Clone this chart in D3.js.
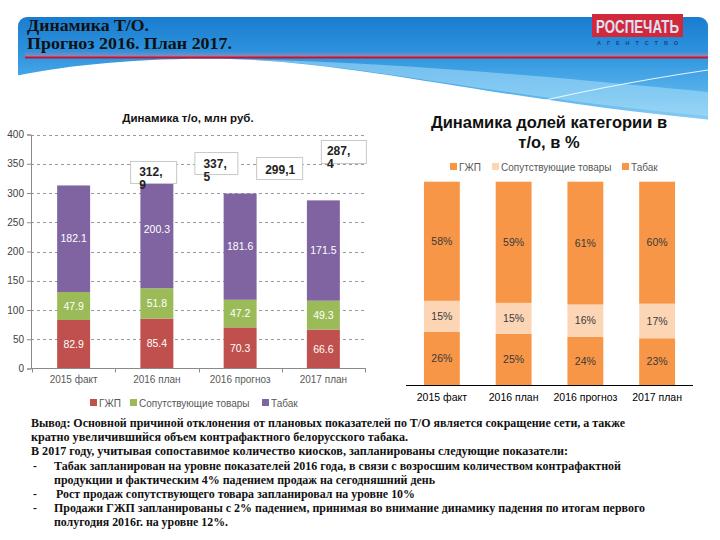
<!DOCTYPE html>
<html><head><meta charset="utf-8">
<script src="https://cdn.jsdelivr.net/npm/d3@7"></script>
<style>body{margin:0;background:#fff}svg{display:block}</style>
</head><body>
<svg id="c" width="720" height="540"></svg>
<script>
// ---------- DATA ----------
const categories = ["2015 факт", "2016 план", "2016 прогноз", "2017 план"];
const seriesNames = ["ГЖП", "Сопутствующие товары", "Табак"];
const gzhpValues = [82.9, 85.4, 70.3, 66.6];
const soputValues = [47.9, 51.8, 47.2, 49.3];
const tabakValues = [182.1, 200.3, 181.6, 171.5];
const gzhpShare = [26, 25, 24, 23];
const soputShare = [15, 15, 16, 17];
const tabakShare = [58, 59, 61, 60];
const yTicks = [0, 50, 100, 150, 200, 250, 300, 350, 400];
const titleLines = ["Динамика Т/О.", "Прогноз 2016. План 2017."];
const leftTitle = "Динамика т/о, млн руб.";
const rightTitleLines = ["Динамика долей категории в", "т/о, в %"];
const noteLines = [
  "Вывод: Основной причиной отклонения от плановых показателей по Т/О является сокращение сети, а также",
  "кратно увеличившийся объем контрафактного белорусского табака.",
  "В 2017 году, учитывая сопоставимое количество киосков, запланированы следующие показатели:",
  "Табак запланирован на уровне показателей 2016 года, в связи с возросшим количеством контрафактной",
  "продукции и фактическим 4% падением продаж на сегодняшний день",
  "Рост продаж сопутствующего товара запланировал на уровне 10%",
  "Продажи ГЖП запланированы с 2% падением, принимая во внимание динамику падения по итогам первого",
  "полугодия 2016г. на уровне 12%."
];
const noteBullets = [false, false, false, true, false, true, true, false];

// ---------- LAYOUT ----------
const svg = d3.select("#c");
const defs = svg.append("defs");
const hg = defs.append("linearGradient").attr("id", "hdr").attr("x1", 0).attr("y1", 0).attr("x2", 0).attr("y2", 1);
[[0, "#1a7ccf"], [0.3, "#2d93de"], [0.65, "#58b3eb"], [1, "#a6dbf7"]].forEach(s =>
  hg.append("stop").attr("offset", s[0]).attr("stop-color", s[1]));
const pg = defs.append("linearGradient").attr("id", "pink").attr("x1", 0).attr("y1", 0).attr("x2", 0).attr("y2", 1);
pg.append("stop").attr("offset", 0).attr("stop-color", "#e87a9a").attr("stop-opacity", 0);
pg.append("stop").attr("offset", 1).attr("stop-color", "#e87a9a").attr("stop-opacity", 0.55);

// header band
svg.append("rect").attr("x", 18).attr("y", 17).attr("width", 690).attr("height", 118).attr("rx", 9).attr("fill", "url(#hdr)");
svg.append("path").attr("d", "M230,59 C360,62 500,98 708,116 L708,92 C560,78 400,62 230,59 Z").attr("fill", "#a9def9").attr("opacity", 0.55);
svg.append("path").attr("d", "M10,77 C60,66 140,57 230,59 C360,62 500,100 712,120 L712,150 L10,150 Z").attr("fill", "#fff");
svg.append("path").attr("d", "M215,60 Q450,84 665,126").attr("fill", "none").attr("stroke", "#fff").attr("stroke-width", 1.2).attr("opacity", 0.85);
svg.append("path").attr("d", "M445,126 Q560,92 708,70").attr("fill", "none").attr("stroke", "#fff").attr("stroke-width", 1.2).attr("opacity", 0.85);
svg.append("rect").attr("x", 25).attr("y", 51).attr("width", 683).attr("height", 6).attr("fill", "url(#pink)");
svg.append("line").attr("x1", 25).attr("x2", 708).attr("y1", 57.5).attr("y2", 57.5).attr("stroke", "#c8142a").attr("stroke-width", 2);

// header title
const titleBase = [31, 49], titleLen = [122, 205];
titleLines.forEach((t, i) => svg.append("text").attr("x", 27).attr("y", titleBase[i])
  .attr("font-family", "Liberation Serif, serif").attr("font-weight", "bold").attr("font-size", 16.5)
  .attr("fill", "#111").attr("textLength", titleLen[i]).attr("lengthAdjust", "spacingAndGlyphs").text(t));

// logo
svg.append("rect").attr("x", 592).attr("y", 14).attr("width", 91).attr("height", 23).attr("fill", "#d3283a");
svg.append("text").attr("x", 596).attr("y", 33).attr("font-family", "Liberation Sans Narrow, Liberation Sans, sans-serif")
  .attr("font-weight", "bold").attr("font-size", 19).attr("fill", "#d9e2f4")
  .attr("textLength", 83).attr("lengthAdjust", "spacingAndGlyphs").text("РОСПЕЧАТЬ");
svg.append("text").attr("x", 597).attr("y", 44.5).attr("font-family", "Liberation Sans, sans-serif")
  .attr("font-weight", "bold").attr("font-size", 5.5).attr("fill", "#1f3c8c")
  .attr("textLength", 81).attr("lengthAdjust", "spacing").text("АГЕНТСТВО");

// ---------- LEFT CHART ----------
const leftColors = ["#C0504D", "#9BBB59", "#8064A2"];
const rowsL = categories.map((c, i) => ({cat: c, [seriesNames[0]]: gzhpValues[i], [seriesNames[1]]: soputValues[i], [seriesNames[2]]: tabakValues[i]}));
const stackL = d3.stack().keys(seriesNames)(rowsL);
const xL = d3.scaleBand().domain(categories).range([32, 365]).paddingInner(0.604).paddingOuter(0.302);
const yL = d3.scaleLinear().domain([0, 400]).range([368.5, 134.5]);

svg.append("text").attr("x", 188).attr("y", 122).attr("text-anchor", "middle")
  .attr("font-family", "Liberation Sans, Arial, sans-serif").attr("font-weight", "bold").attr("font-size", 11.5)
  .attr("fill", "#111").text(leftTitle);

const gL = svg.append("g");
gL.selectAll("line.grid").data(yTicks.filter(t => t > 0)).join("line").attr("class", "grid")
  .attr("x1", 31).attr("x2", 366).attr("y1", d => Math.round(yL(d)) + 0.5).attr("y2", d => Math.round(yL(d)) + 0.5)
  .attr("stroke", "#9a9a9a").attr("stroke-dasharray", "3,3").attr("stroke-width", 1);

const yAxisL = gL.append("g").attr("transform", "translate(31,0)")
  .call(d3.axisLeft(yL).tickValues(yTicks).tickSize(4).tickPadding(3));
yAxisL.select(".domain").attr("stroke", "#8a8a8a");
yAxisL.selectAll(".tick line").attr("stroke", "#8a8a8a");
yAxisL.selectAll(".tick text").attr("font-family", "Liberation Sans, Arial, sans-serif").attr("font-size", 10).attr("fill", "#404040");

stackL.forEach((s, si) => {
  gL.selectAll(null).data(s).join("rect")
    .attr("x", d => xL(d.data.cat)).attr("width", xL.bandwidth())
    .attr("y", d => yL(d[1])).attr("height", d => yL(d[0]) - yL(d[1]))
    .attr("fill", leftColors[si]);
  gL.selectAll(null).data(s).join("text")
    .attr("x", d => xL(d.data.cat) + xL.bandwidth() / 2).attr("y", d => (yL(d[0]) + yL(d[1])) / 2)
    .attr("dy", "0.36em").attr("text-anchor", "middle")
    .attr("font-family", "Liberation Sans, Arial, sans-serif").attr("font-size", 10.5).attr("fill", "#fff")
    .text(d => d3.format(".1f")(d[1] - d[0]));
});

// x axis
gL.append("line").attr("x1", 31).attr("x2", 366).attr("y1", 368.5).attr("y2", 368.5).attr("stroke", "#8a8a8a");
d3.range(categories.length + 1).forEach(i => {
  const x = Math.round(32 + i * xL.step()) + 0.5;
  gL.append("line").attr("x1", x).attr("x2", x).attr("y1", 368.5).attr("y2", 372.5).attr("stroke", "#8a8a8a");
});
gL.selectAll("text.cat").data(categories).join("text").attr("class", "cat")
  .attr("x", d => xL(d) + xL.bandwidth() / 2).attr("y", 383).attr("text-anchor", "middle")
  .attr("font-family", "Liberation Sans, Arial, sans-serif").attr("font-size", 10).attr("fill", "#595959").text(d => d);

// total labels (boxes offset as in the source slide)
const totals = categories.map((c, i) => gzhpValues[i] + soputValues[i] + tabakValues[i]);
const totalBox = [
  {dx: 56.5, dy: -24.5, w: 46, h: 22, tx: 9, ty: 15, wrap: true},
  {dx: 37.5, dy: -19, w: 43, h: 22, tx: 9, ty: 15.5, wrap: true},
  {dx: 16, dy: -36.5, w: 46, h: 22, tx: 9, ty: 16.5, wrap: false},
  {dx: -2.5, dy: -60.4, w: 45, h: 23, tx: 6, ty: 15, wrap: true}
];
totals.forEach((t, i) => {
  const b = totalBox[i];
  const bx = xL(categories[i]) + xL.bandwidth() / 2 + b.dx, by = yL(t) + b.dy;
  gL.append("rect").attr("x", bx + 0.5).attr("y", by + 0.5).attr("width", b.w).attr("height", b.h)
    .attr("fill", "#fff").attr("stroke", "#c8c8c8");
  const lbl = d3.format(".1f")(t).replace(".", ",");
  const parts = b.wrap ? [lbl.split(",")[0] + ",", lbl.split(",")[1]] : [lbl];
  const tx = gL.append("text").attr("font-family", "Liberation Sans, Arial, sans-serif").attr("font-weight", "bold")
    .attr("font-size", 12).attr("fill", "#222");
  parts.forEach((p, k) => tx.append("tspan").attr("x", bx + b.tx).attr("y", by + b.ty + k * 13).text(p));
});

// left legend
const legLx = [90, 130, 262];
seriesNames.forEach((n, i) => {
  svg.append("rect").attr("x", legLx[i]).attr("y", 399).attr("width", 7).attr("height", 7).attr("fill", leftColors[i]);
  svg.append("text").attr("x", legLx[i] + 9).attr("y", 406.5).attr("font-family", "Liberation Sans, Arial, sans-serif")
    .attr("font-size", 10).attr("fill", "#595959").text(n);
});

// ---------- RIGHT CHART ----------
const rightColors = ["#F79646", "#FCD5B5", "#F79646"];
const rowsR = categories.map((c, i) => ({cat: c, [seriesNames[0]]: gzhpShare[i], [seriesNames[1]]: soputShare[i], [seriesNames[2]]: tabakShare[i]}));
const stackR = d3.stack().keys(seriesNames).offset(d3.stackOffsetExpand)(rowsR);
const xR = d3.scaleBand().domain(categories).range([406, 693]).paddingInner(0.5).paddingOuter(0.25);
const yR = d3.scaleLinear().domain([0, 1]).range([385, 181.7]);

rightTitleLines.forEach((t, i) => svg.append("text").attr("x", 549).attr("y", 127.5 + i * 20).attr("text-anchor", "middle")
  .attr("font-family", "Liberation Sans, Arial, sans-serif").attr("font-weight", "bold").attr("font-size", 16.5)
  .attr("fill", "#111").text(t));

const legRx = [450, 492, 622];
seriesNames.forEach((n, i) => {
  svg.append("rect").attr("x", legRx[i]).attr("y", 163).attr("width", 7).attr("height", 7).attr("fill", rightColors[i]);
  svg.append("text").attr("x", legRx[i] + 9).attr("y", 170.5).attr("font-family", "Liberation Sans, Arial, sans-serif")
    .attr("font-size", 10).attr("fill", "#595959").text(n);
});

const gR = svg.append("g");
stackR.forEach((s, si) => {
  const raw = [gzhpShare, soputShare, tabakShare][si];
  gR.selectAll(null).data(s).join("rect")
    .attr("x", d => xR(d.data.cat)).attr("width", xR.bandwidth())
    .attr("y", d => yR(d[1])).attr("height", d => yR(d[0]) - yR(d[1]))
    .attr("fill", rightColors[si]);
  gR.selectAll(null).data(s).join("text")
    .attr("x", d => xR(d.data.cat) + xR.bandwidth() / 2).attr("y", d => (yR(d[0]) + yR(d[1])) / 2)
    .attr("dy", "0.36em").attr("text-anchor", "middle")
    .attr("font-family", "Liberation Sans, Arial, sans-serif").attr("font-size", 10.5).attr("fill", "#3a3a3a")
    .text((d, i) => raw[i] + "%");
});
gR.append("line").attr("x1", 406).attr("x2", 693).attr("y1", 385.5).attr("y2", 385.5).attr("stroke", "#000");
gR.selectAll("text.cat").data(categories).join("text").attr("class", "cat")
  .attr("x", d => xR(d) + xR.bandwidth() / 2).attr("y", 400.5).attr("text-anchor", "middle")
  .attr("font-family", "Liberation Sans, Arial, sans-serif").attr("font-size", 10.5).attr("fill", "#000").text(d => d);

// ---------- NOTES ----------
const noteX = [31, 31, 31, 54, 54, 56, 54, 54];
const noteEnd = [625, 408, 568, 621, 435, 415, 645, 228];
noteLines.forEach((t, i) => {
  const y = 427 + i * 14.2;
  if (noteBullets[i]) svg.append("text").attr("x", 33).attr("y", y).attr("font-family", "Liberation Serif, serif")
    .attr("font-weight", "bold").attr("font-size", 11.5).attr("fill", "#111").text("-");
  svg.append("text").attr("x", noteX[i]).attr("y", y).attr("font-family", "Liberation Serif, serif")
    .attr("font-weight", "bold").attr("font-size", 11.5).attr("fill", "#111")
    .attr("textLength", noteEnd[i] - noteX[i]).attr("lengthAdjust", "spacingAndGlyphs").text(t);
});
</script>
</body></html>
